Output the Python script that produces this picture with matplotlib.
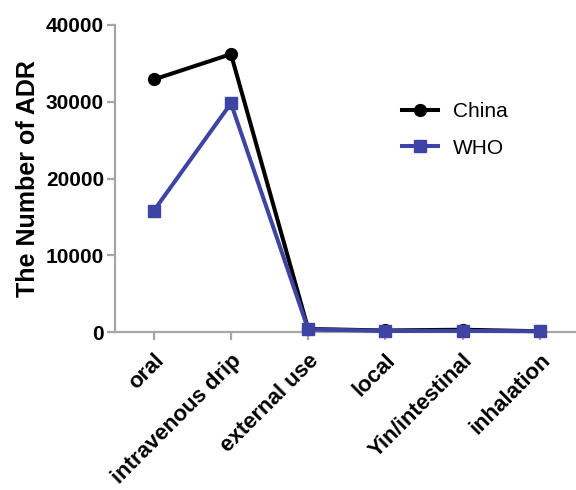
import matplotlib
matplotlib.use("Agg")
import matplotlib.pyplot as plt
from matplotlib.transforms import ScaledTranslation

plt.rcParams['font.family'] = ['Liberation Sans', 'DejaVu Sans']

routes = ['oral', 'intravenous drip', 'external use', 'local', 'Yin/intestinal', 'inhalation']
china = [32900, 36200, 400, 200, 300, 100]
who = [15800, 29800, 350, 150, 150, 100]
yticks = [0, 10000, 20000, 30000, 40000]

fig = plt.figure(figsize=(5.76, 4.9), dpi=100)
ax = fig.add_axes([0.2, 0.3224, 0.8, 0.6266])

x = list(range(len(routes)))
ax.plot(x, china, color='black', lw=2.9, marker='o', ms=8.5, label='China', clip_on=False, zorder=3)
ax.plot(x, who, color='#3d44a3', lw=2.9, marker='s', ms=9.3, label='WHO', clip_on=False, zorder=4)

ax.set_xlim(-0.5, 5.47)
ax.set_ylim(0, 40000)
ax.set_yticks(yticks)
ax.set_xticks(x)
ax.set_xticklabels(routes, rotation=45, ha='right', rotation_mode='anchor',
                   fontsize=16, fontweight='bold')
shift = ScaledTranslation(6 / 100, -3 / 100, fig.dpi_scale_trans)
for lab in ax.get_xticklabels():
    lab.set_transform(lab.get_transform() + shift)
for lab in ax.get_yticklabels():
    lab.set_fontweight('bold')
    lab.set_fontsize(15)
ax.set_ylabel('The Number of ADR', fontsize=18, fontweight='bold', labelpad=4)

for s in ['top', 'right']:
    ax.spines[s].set_visible(False)
for s in ['left', 'bottom']:
    ax.spines[s].set_color('#a6a6a6')
    ax.spines[s].set_linewidth(1.6)
ax.tick_params(axis='both', color='#a6a6a6', width=1.6, length=6, pad=2)
ax.tick_params(axis='x', pad=7)

ax.legend(loc='upper left', bbox_to_anchor=(0.582, 0.81), frameon=False, fontsize=15,
          handlelength=1.7, labelspacing=0.85, handletextpad=0.75)

fig.savefig('out.png', dpi=100)
